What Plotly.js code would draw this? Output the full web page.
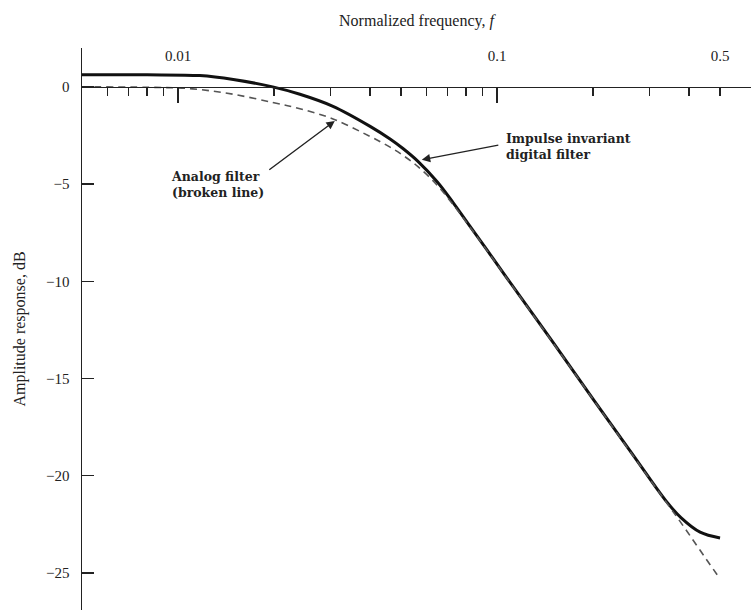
<!DOCTYPE html>
<html>
<head>
<meta charset="utf-8">
<script src="https://cdn.plot.ly/plotly-3.0.1.min.js"></script>
<style>html,body{margin:0;padding:0;background:#fff;}#chart{width:751px;height:610px;}</style>
</head>
<body>
<div id="chart"></div>
<script>
// Digital (impulse invariant) filter response
const digitalFreq = [0.005, 0.008, 0.0117, 0.0149, 0.0198, 0.0241, 0.0306, 0.040, 0.0462, 0.0507, 0.0565, 0.0649, 0.0728, 0.0822, 0.0931, 0.1074, 0.150, 0.200, 0.267, 0.340, 0.377, 0.433, 0.500];
const digitalDb   = [0.62, 0.62, 0.58, 0.38, 0.0, -0.38, -1.0, -2.03, -2.68, -3.17, -3.83, -4.88, -5.95, -7.16, -8.4, -9.83, -13.15, -16.05, -18.93, -21.33, -22.15, -22.9, -23.2];
// Analog filter response (broken line)
const analogFreq = [0.005, 0.008, 0.0111, 0.0149, 0.0198, 0.0241, 0.0306, 0.040, 0.0462, 0.0507, 0.0565, 0.0649, 0.0728, 0.0822, 0.0931, 0.1074, 0.150, 0.200, 0.267, 0.340, 0.385, 0.433, 0.500];
const analogDb   = [0.0, -0.02, -0.1, -0.38, -0.8, -1.12, -1.65, -2.55, -3.1, -3.52, -4.1, -5.05, -6.05, -7.2, -8.42, -9.85, -13.18, -16.07, -18.97, -21.38, -22.62, -23.83, -25.3];
// Axis ticks
const xMinorTicks = [0.006, 0.007, 0.008, 0.009, 0.01, 0.02, 0.03, 0.04, 0.05, 0.06, 0.07, 0.08, 0.09, 0.1, 0.2, 0.3, 0.4, 0.5];
const xMajorTicks = [0.01, 0.1];
const xLabelVals = [0.01, 0.1, 0.5];
const xLabelText = ['0.01', '0.1', '0.5'];
const yTickVals = [0, -5, -10, -15, -20, -25];

const serif = "'Liberation Serif', 'Times New Roman', serif";
const boldSerif = "'DejaVu Serif', serif";
const yRange = [-26.9, 2.0];
const zeroPos = (0 - yRange[0]) / (yRange[1] - yRange[0]);
const xRange = [Math.log10(0.005), -0.204];

const tickText = xMinorTicks.map(v => {
  const i = xLabelVals.indexOf(v);
  return i >= 0 ? xLabelText[i] : '';
});

const traces = [
  {
    x: analogFreq, y: analogDb, type: 'scatter', mode: 'lines',
    line: {color: '#555', width: 1.6, dash: '7px,5px', shape: 'spline', smoothing: 1},
    xaxis: 'x2', yaxis: 'y', hoverinfo: 'skip'
  },
  {
    x: digitalFreq, y: digitalDb, type: 'scatter', mode: 'lines',
    line: {color: '#111', width: 3, shape: 'spline', smoothing: 1},
    xaxis: 'x', yaxis: 'y', hoverinfo: 'skip'
  }
];

const layout = {
  width: 751, height: 610,
  margin: {l: 82, r: 0, t: 48, b: 0},
  paper_bgcolor: '#fff', plot_bgcolor: '#fff',
  showlegend: false,
  font: {family: serif, size: 15, color: '#222'},
  xaxis: {
    type: 'log', range: xRange, anchor: 'free', position: zeroPos, side: 'top',
    showgrid: false, zeroline: false,
    showline: true, linecolor: '#222', linewidth: 1.5,
    tickmode: 'array', tickvals: xMinorTicks, ticktext: tickText,
    ticks: 'inside', ticklen: 8, tickwidth: 1.3, tickcolor: '#222',
    ticklabelstandoff: 20,
    tickfont: {family: serif, size: 15, color: '#222'},
    title: {text: 'Normalized frequency, <i>f</i>', font: {family: serif, size: 16, color: '#222'}, standoff: 16}
  },
  xaxis2: {
    type: 'log', range: xRange, overlaying: 'x', anchor: 'free', position: zeroPos, side: 'top',
    showgrid: false, zeroline: false, showline: false, showticklabels: false,
    tickmode: 'array', tickvals: xMajorTicks,
    ticks: 'inside', ticklen: 15, tickwidth: 1.5, tickcolor: '#222'
  },
  yaxis: {
    range: yRange, showgrid: false, zeroline: false,
    showline: true, linecolor: '#222', linewidth: 1.5,
    tickmode: 'array', tickvals: yTickVals,
    ticks: 'inside', ticklen: 12, tickwidth: 1.3, tickcolor: '#222',
    ticklabelstandoff: 8,
    tickfont: {family: serif, size: 15, color: '#222'},
    title: {text: 'Amplitude response, dB', font: {family: serif, size: 16, color: '#222'}, standoff: 16}
  },
  annotations: [
    {xref: 'paper', yref: 'paper', x: (169 - 82) / 669, y: 1 - (184 - 48) / 562,
     xanchor: 'left', yanchor: 'middle', align: 'left', showarrow: false,
     text: 'Analog filter<br>(broken line)', font: {family: boldSerif, size: 12.5, color: '#222', weight: 'bold'}},
    {x: Math.log10(0.031), y: -1.75, xref: 'x', yref: 'y', text: '', showarrow: true,
     ax: -67, ay: 50, arrowhead: 2, arrowsize: 1.2, arrowwidth: 1.4, arrowcolor: '#222'},
    {xref: 'paper', yref: 'paper', x: (504 - 82) / 669, y: 1 - (146 - 48) / 562,
     xanchor: 'left', yanchor: 'middle', align: 'left', showarrow: false,
     text: 'Impulse invariant<br>digital filter', font: {family: boldSerif, size: 12.5, color: '#222', weight: 'bold'}},
    {x: Math.log10(0.0581), y: -3.75, xref: 'x', yref: 'y', text: '', showarrow: true,
     ax: 78, ay: -15, arrowhead: 2, arrowsize: 1.2, arrowwidth: 1.4, arrowcolor: '#222'}
  ]
};

Plotly.newPlot('chart', traces, layout, {staticPlot: true, displayModeBar: false});
</script>
</body>
</html>
